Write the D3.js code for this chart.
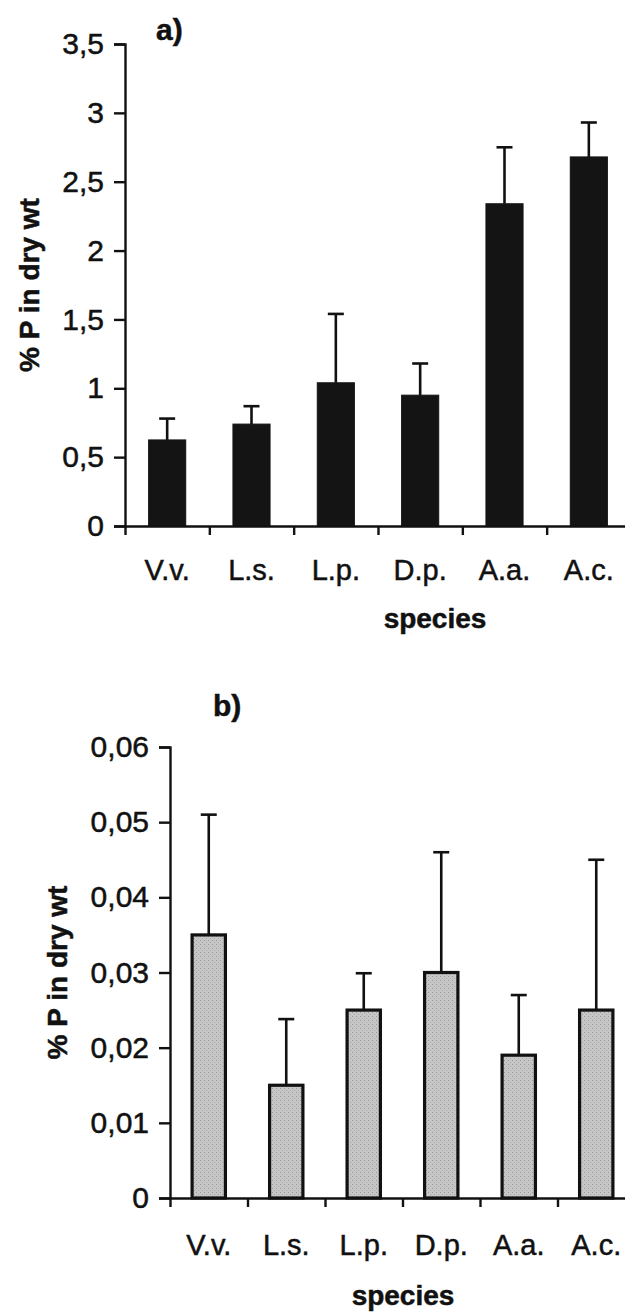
<!DOCTYPE html>
<html>
<head>
<meta charset="utf-8">
<script src="https://cdn.jsdelivr.net/npm/d3@7"></script>
<style>
  body { margin: 0; background: #fff; }
  svg { display: block; font-family: "Liberation Sans", Arial, sans-serif; }
  svg text { stroke: #111; stroke-width: 0.5px; }
</style>
</head>
<body>
<div id="chart"></div>
<script>
const species = ['V.v.', 'L.s.', 'L.p.', 'D.p.', 'A.a.', 'A.c.'];

// panel a) - % P in dry wt
const valuesA = [0.625, 0.74, 1.04, 0.95, 2.34, 2.68];
const errorsA = [0.155, 0.13, 0.50, 0.23, 0.41, 0.25];
const ticksA = [0, 0.5, 1, 1.5, 2, 2.5, 3, 3.5];

// panel b) - % P in dry wt
const valuesB = [0.035, 0.015, 0.025, 0.030, 0.019, 0.025];
const errorsB = [0.016, 0.0088, 0.0049, 0.016, 0.008, 0.020];
const ticksB = [0, 0.01, 0.02, 0.03, 0.04, 0.05, 0.06];

const width = 625;
const height = 1315;

const comma = d3.formatLocale({ decimal: ',', thousands: '.', grouping: [3], currency: ['', ''] });
const fmt = comma.format('~g');

const svg = d3.select('#chart')
  .append('svg')
  .attr('width', width)
  .attr('height', height);

const defs = svg.append('defs');
const pat = defs.append('pattern')
  .attr('id', 'stipple')
  .attr('width', 4).attr('height', 4)
  .attr('patternUnits', 'userSpaceOnUse');
pat.append('rect').attr('width', 4).attr('height', 4).attr('fill', '#c6c6c6');
pat.append('rect').attr('x', 0).attr('y', 0).attr('width', 1).attr('height', 1).attr('fill', '#9a9a9a');
pat.append('rect').attr('x', 2).attr('y', 2).attr('width', 1).attr('height', 1).attr('fill', '#a8a8a8');

function panel(opt) {
  const g = svg.append('g');

  const x = d3.scaleBand()
    .domain(species)
    .range(opt.xr)
    .paddingInner(opt.pad)
    .paddingOuter(opt.pad / 2);

  // tick marks sit on the category boundaries
  const xb = d3.scaleLinear()
    .domain([0, species.length])
    .range(opt.xr);

  const y = d3.scaleLinear()
    .domain([0, opt.ticks[opt.ticks.length - 1]])
    .range(opt.yr);

  // bars
  g.append('g')
    .selectAll('rect')
    .data(opt.values)
    .join('rect')
      .attr('x', (d, i) => x(species[i]))
      .attr('y', d => y(d))
      .attr('width', x.bandwidth())
      .attr('height', d => y(0) - y(d))
      .attr('fill', opt.fill)
      .attr('stroke', opt.stroke)
      .attr('stroke-width', opt.strokeW);

  // error bars, upper side only
  const eb = g.append('g')
    .attr('stroke', '#111')
    .attr('stroke-width', 2.6);
  eb.selectAll('line.v')
    .data(opt.values)
    .join('line')
      .attr('class', 'v')
      .attr('x1', (d, i) => x(species[i]) + x.bandwidth() / 2)
      .attr('x2', (d, i) => x(species[i]) + x.bandwidth() / 2)
      .attr('y1', d => y(d))
      .attr('y2', (d, i) => y(d + opt.errors[i]));
  eb.selectAll('line.cap')
    .data(opt.values)
    .join('line')
      .attr('class', 'cap')
      .attr('x1', (d, i) => x(species[i]) + x.bandwidth() / 2 - 8)
      .attr('x2', (d, i) => x(species[i]) + x.bandwidth() / 2 + 8)
      .attr('y1', (d, i) => y(d + opt.errors[i]))
      .attr('y2', (d, i) => y(d + opt.errors[i]));

  // y axis
  g.append('g')
    .attr('transform', `translate(${opt.xr[0]},0)`)
    .call(d3.axisLeft(y).tickValues(opt.ticks).tickFormat(fmt).tickSize(11).tickPadding(10))
    .call(a => a.selectAll('path, line').attr('stroke', '#111').attr('stroke-width', 2.4))
    .call(a => a.selectAll('text').attr('font-size', 30).attr('fill', '#111'))
    .attr('font-family', null);

  // x axis: boundary ticks
  g.append('g')
    .attr('transform', `translate(0,${opt.yr[0]})`)
    .call(d3.axisBottom(xb).tickValues(d3.range(species.length)).tickFormat('').tickSize(9).tickSizeOuter(0))
    .call(a => a.selectAll('path, line').attr('stroke', '#111').attr('stroke-width', 2.4));

  // x axis: labels at band centres
  g.append('g')
    .attr('transform', `translate(0,${opt.yr[0]})`)
    .call(d3.axisBottom(x).tickSize(0).tickPadding(opt.labelPad))
    .call(a => a.select('.domain').remove())
    .call(a => a.selectAll('text').attr('font-size', 29).attr('fill', '#111'))
    .attr('font-family', null);

  g.append('text')
    .attr('x', opt.xTitle[0])
    .attr('y', opt.xTitle[1])
    .attr('text-anchor', 'middle')
    .attr('font-size', 28)
    .attr('font-weight', 'bold')
    .attr('fill', '#111')
    .text('species');

  g.append('text')
    .attr('transform', `translate(${opt.yTitleX},${(opt.yr[0] + opt.yr[1]) / 2}) rotate(-90)`)
    .attr('text-anchor', 'middle')
    .attr('dominant-baseline', 'central')
    .attr('font-size', 28)
    .attr('font-weight', 'bold')
    .attr('fill', '#111')
    .text('% P in dry wt');

  g.append('text')
    .attr('x', opt.tag[0])
    .attr('y', opt.tag[1])
    .attr('font-size', 30)
    .attr('font-weight', 'bold')
    .attr('fill', '#111')
    .text(opt.tagText);
}

panel({
  values: valuesA, errors: errorsA, ticks: ticksA,
  xr: [125, 631], yr: [526, 44], pad: 0.56,
  fill: '#141414', stroke: '#141414', strokeW: 1,
  labelPad: 33, xTitle: [435, 628], yTitleX: 29,
  tag: [156, 40], tagText: 'a)'
});

panel({
  values: valuesB, errors: errorsB, ticks: ticksB,
  xr: [170, 635], yr: [1198, 747], pad: 0.57,
  fill: 'url(#stipple)', stroke: '#111', strokeW: 3.2,
  labelPad: 36, xTitle: [403, 1305], yTitleX: 57,
  tag: [213, 716], tagText: 'b)'
});
</script>
</body>
</html>
